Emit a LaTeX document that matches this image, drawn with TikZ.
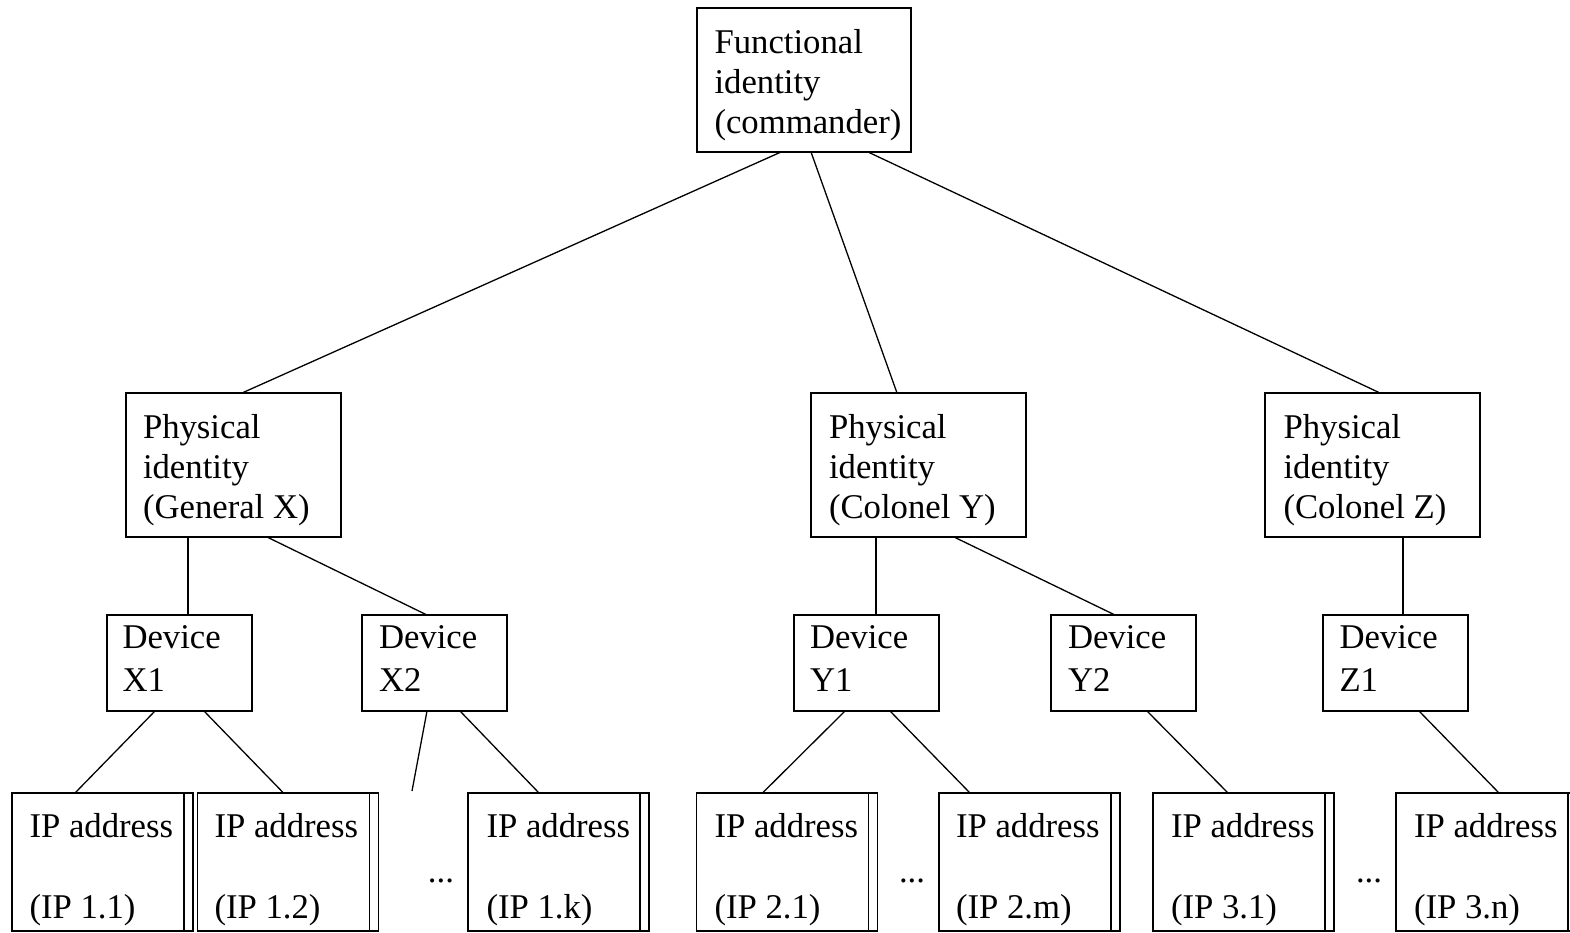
\documentclass[tikz,border=0pt]{standalone}
\usepackage{fontspec}
\setmainfont{Liberation Serif}
\begin{document}
\begin{tikzpicture}[x=1pt,y=-1pt,
  every node/.style={inner sep=0pt, outer sep=0pt},
  frame/.style={draw, line width=1.3pt, anchor=north west},
  idbox/.style={frame, minimum width=215pt, minimum height=144pt},
  devbox/.style={frame, minimum width=145pt, minimum height=96pt},
  ipbox/.style={frame, minimum width=181pt, minimum height=138pt,
    path picture={\draw[line width=1.3pt]
      ([xshift=-9pt]path picture bounding box.north east) --
      ([xshift=-9pt]path picture bounding box.south east);}},
  txt/.style={anchor=north west, align=left, font=\fontsize{34.7}{40}\selectfont},
  devtxt/.style={txt, font=\fontsize{34.7}{43}\selectfont},
  iptxt/.style={txt, font=\fontsize{34.7}{81}\selectfont},
  dots/.style={anchor=base, font=\fontsize{34.7}{40}\selectfont},
  link/.style={line width=1.3pt}]
\useasboundingbox (0,0) rectangle (1570,932);

% identities
\node[idbox, minimum width=214pt] (top) at (697,8) {};
\node[txt] (toptxt) at (714.5,23) {\rule{0pt}{30pt}Functional\\identity\\(commander)};
\node[idbox] (px) at (126,393) {};
\node[txt] (pxtxt) at (143,408) {\rule{0pt}{30pt}Physical\\identity\\(General X)};
\node[idbox] (py) at (811,393) {};
\node[txt] (pytxt) at (829,408) {\rule{0pt}{30pt}Physical\\identity\\(Colonel Y)};
\node[idbox] (pz) at (1265,393) {};
\node[txt] (pztxt) at (1283.5,408) {\rule{0pt}{30pt}Physical\\identity\\(Colonel Z)};

% devices
\node[devbox] (x1) at (107,615) {};
\node[devtxt] (x1txt) at (122.5,618) {\rule{0pt}{30pt}Device\\X1};
\node[devbox] (x2) at (362,615) {};
\node[devtxt] (x2txt) at (379,618) {\rule{0pt}{30pt}Device\\X2};
\node[devbox] (y1) at (794,615) {};
\node[devtxt] (y1txt) at (810,618) {\rule{0pt}{30pt}Device\\Y1};
\node[devbox] (y2) at (1051,615) {};
\node[devtxt] (y2txt) at (1068,618) {\rule{0pt}{30pt}Device\\Y2};
\node[devbox] (z1) at (1323,615) {};
\node[devtxt] (z1txt) at (1339.5,618) {\rule{0pt}{30pt}Device\\Z1};

% IP addresses
\node[ipbox] (ip11) at (12,793) {};
\node[iptxt] (ip11txt) at (29.5,807) {\rule{0pt}{30pt}IP address\\(IP 1.1)};
\node[ipbox] (ip12) at (197.5,793) {};
\node[iptxt] (ip12txt) at (214.5,807) {\rule{0pt}{30pt}IP address\\(IP 1.2)};
\node[ipbox] (ip1k) at (468,793) {};
\node[iptxt] (ip1ktxt) at (486.5,807) {\rule{0pt}{30pt}IP address\\(IP 1.k)};
\node[ipbox] (ip21) at (696.5,793) {};
\node[iptxt] (ip21txt) at (714.5,807) {\rule{0pt}{30pt}IP address\\(IP 2.1)};
\node[ipbox] (ip2m) at (939,793) {};
\node[iptxt] (ip2mtxt) at (956,807) {\rule{0pt}{30pt}IP address\\(IP 2.m)};
\node[ipbox] (ip31) at (1153,793) {};
\node[iptxt] (ip31txt) at (1171,807) {\rule{0pt}{30pt}IP address\\(IP 3.1)};
\node[ipbox] (ip3n) at (1396,793) {};
\node[iptxt] (ip3ntxt) at (1414,807) {\rule{0pt}{30pt}IP address\\(IP 3.n)};

% ellipses between address boxes
\node[dots] (dx) at (441,882) {...};
\node[dots] (dy) at (912,882) {...};
\node[dots] (dz) at (1369,882) {...};

% tree links
\draw[link] ([xshift=84pt]top.south west) -- ([xshift=116pt]px.north west);
\draw[link] ([xshift=114pt]top.south west) -- ([xshift=86pt]py.north west);
\draw[link] ([xshift=171pt]top.south west) -- ([xshift=115pt]pz.north west);

\draw[link] ([xshift=62pt]px.south west) -- ([xshift=81pt]x1.north west);
\draw[link] ([xshift=141pt]px.south west) -- ([xshift=65pt]x2.north west);
\draw[link] ([xshift=65pt]py.south west) -- ([xshift=82pt]y1.north west);
\draw[link] ([xshift=143pt]py.south west) -- ([xshift=64pt]y2.north west);
\draw[link] ([xshift=138pt]pz.south west) -- ([xshift=80pt]z1.north west);

\coordinate (x2free) at (412,791);
\draw[link] ([xshift=48pt]x1.south west) -- ([xshift=63pt]ip11.north west);
\draw[link] ([xshift=97pt]x1.south west) -- ([xshift=86pt]ip12.north west);
\draw[link] ([xshift=65pt]x2.south west) -- (x2free);
\draw[link] ([xshift=98pt]x2.south west) -- ([xshift=71pt]ip1k.north west);
\draw[link] ([xshift=51pt]y1.south west) -- ([xshift=66pt]ip21.north west);
\draw[link] ([xshift=96pt]y1.south west) -- ([xshift=31pt]ip2m.north west);
\draw[link] ([xshift=96pt]y2.south west) -- ([xshift=75pt]ip31.north west);
\draw[link] ([xshift=96pt]z1.south west) -- ([xshift=103pt]ip3n.north west);
\end{tikzpicture}
\end{document}
